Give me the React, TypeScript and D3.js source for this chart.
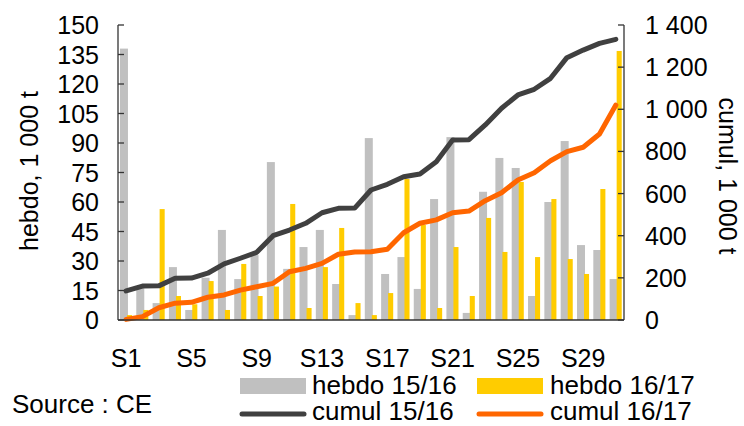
import React from "react";
import * as d3 from "d3";

const weeks = ["S1","S2","S3","S4","S5","S6","S7","S8","S9","S10","S11","S12","S13","S14","S15","S16","S17","S18","S19","S20","S21","S22","S23","S24","S25","S26","S27","S28","S29","S30","S31"];
const xTickLabels = ["S1","S5","S9","S13","S17","S21","S25","S29"];
const hebdo1516 = [138, 17, 8.6, 26.9, 5.1, 21.5, 45.8, 20.8, 33, 80.3, 26, 37.1, 45.8, 18.3, 2.5, 92.5, 23.4, 32, 15.8, 61.5, 93, 3.6, 65.2, 82.4, 77.3, 12.2, 60, 91, 38.1, 35.6, 20.8];
const hebdo1617 = [2.5, 5.1, 56.4, 12.2, 8, 19.8, 5.1, 28.5, 12.2, 17, 59, 6.1, 26.9, 46.8, 8.6, 2.5, 13.7, 71.7, 48.3, 6.1, 37.1, 12.2, 51.9, 34.6, 70.2, 32, 61.5, 31, 23.4, 66.6, 136.8];
const cumul1516 = [138, 161, 162, 198, 199, 222, 266, 293, 321, 400, 427, 459, 509, 530, 531, 617, 644, 680, 693, 751, 854, 856, 926, 1005, 1068, 1095, 1147, 1245, 1281, 1313, 1332];
const cumul1617 = [3, 16, 58, 80, 84, 108, 119, 142, 158, 174, 229, 245, 269, 312, 323, 324, 336, 414, 459, 475, 509, 517, 566, 604, 664, 699, 756, 799, 820, 883, 1020];
const leftTicks = [0, 15, 30, 45, 60, 75, 90, 105, 120, 135, 150];
const rightTicks = [0, 200, 400, 600, 800, 1000, 1200, 1400];
const rightTickLabels = ["0", "200", "400", "600", "800", "1 000", "1 200", "1 400"];

const W = 744, H = 426;
const L = 118, R = 624, T = 25, B = 320;
const FONT = "'Liberation Sans', Arial, sans-serif";
const GRAY = "#C0C0C0", YELLOW = "#FFCC00", DARK = "#404040", ORANGE = "#FF6600", AXIS = "#333333";

export default function App() {
  const x = d3.scaleBand<string>().domain(weeks).range([L, R]).padding(0);
  const bw = x.bandwidth();
  const yL = d3.scaleLinear().domain([0, 150]).range([B, T]);
  const yR = d3.scaleLinear().domain([0, 1400]).range([B, T]);
  const cx = (w: string) => (x(w) as number) + bw / 2;
  const line = d3.line<number>().x((_, i) => cx(weeks[i])).y((d) => yR(d));

  return (
    <svg width={W} height={H} style={{ position: "absolute", left: 0, top: 0, background: "#fff" }}>
      <rect x={0} y={0} width={W} height={H} fill="#fff" />
      {hebdo1516.map((v, i) => (
        <rect key={"g" + i} x={(x(weeks[i]) as number) + bw * 0.12} width={bw * 0.49} y={yL(v)} height={B - yL(v)} fill={GRAY} />
      ))}
      {hebdo1617.map((v, i) => (
        <rect key={"y" + i} x={(x(weeks[i]) as number) + bw * 0.55} width={bw * 0.31} y={yL(v)} height={B - yL(v)} fill={YELLOW} />
      ))}
      <path d={line(cumul1516) || ""} fill="none" stroke={DARK} strokeWidth={5} strokeLinejoin="round" strokeLinecap="round" />
      <path d={line(cumul1617) || ""} fill="none" stroke={ORANGE} strokeWidth={5} strokeLinejoin="round" strokeLinecap="round" />

      {/* axes */}
      <line x1={L} x2={L} y1={T} y2={B} stroke={AXIS} strokeWidth={1.3} />
      <line x1={R} x2={R} y1={T} y2={B} stroke={AXIS} strokeWidth={1.3} />
      <line x1={L} x2={R} y1={B} y2={B} stroke={AXIS} strokeWidth={1.5} />
      {leftTicks.map((t) => (
        <g key={"lt" + t}>
          <line x1={L} x2={L + 6} y1={yL(t)} y2={yL(t)} stroke={AXIS} strokeWidth={1.3} />
          <text x={99} y={yL(t)} dy="0.36em" textAnchor="end" fontFamily={FONT} fontSize={25} fill="#000">{t}</text>
        </g>
      ))}
      {rightTicks.map((t, i) => (
        <g key={"rt" + t}>
          <line x1={R - 6} x2={R} y1={yR(t)} y2={yR(t)} stroke={AXIS} strokeWidth={1.3} />
          <text x={645} y={yR(t)} dy="0.36em" textAnchor="start" fontFamily={FONT} fontSize={25} fill="#000">{rightTickLabels[i]}</text>
        </g>
      ))}
      {xTickLabels.map((s) => (
        <text key={s} x={cx(s)} y={367} textAnchor="middle" fontFamily={FONT} fontSize={25} fill="#000">{s}</text>
      ))}
      <text transform="translate(38,171) rotate(-90)" textAnchor="middle" fontFamily={FONT} fontSize={25} fill="#000">hebdo, 1 000 t</text>
      <text transform="translate(719,176) rotate(90)" textAnchor="middle" fontFamily={FONT} fontSize={25} fill="#000">cumul, 1 000 t</text>

      {/* legend */}
      <text x={12} y={413} fontFamily={FONT} fontSize={26} fill="#000">Source : CE</text>
      <rect x={240} y={378} width={66} height={16} fill={GRAY} />
      <text x={312} y={394} fontFamily={FONT} fontSize={26} fill="#000">hebdo 15/16</text>
      <rect x={477} y={378} width={66} height={16} fill={YELLOW} />
      <text x={550} y={394} fontFamily={FONT} fontSize={26} fill="#000">hebdo 16/17</text>
      <line x1={242} x2={304} y1={414} y2={414} stroke={DARK} strokeWidth={5} strokeLinecap="round" />
      <text x={312} y={420} fontFamily={FONT} fontSize={26} fill="#000">cumul 15/16</text>
      <line x1={479} x2={541} y1={414} y2={414} stroke={ORANGE} strokeWidth={5} strokeLinecap="round" />
      <text x={550} y={420} fontFamily={FONT} fontSize={26} fill="#000">cumul 16/17</text>
    </svg>
  );
}
